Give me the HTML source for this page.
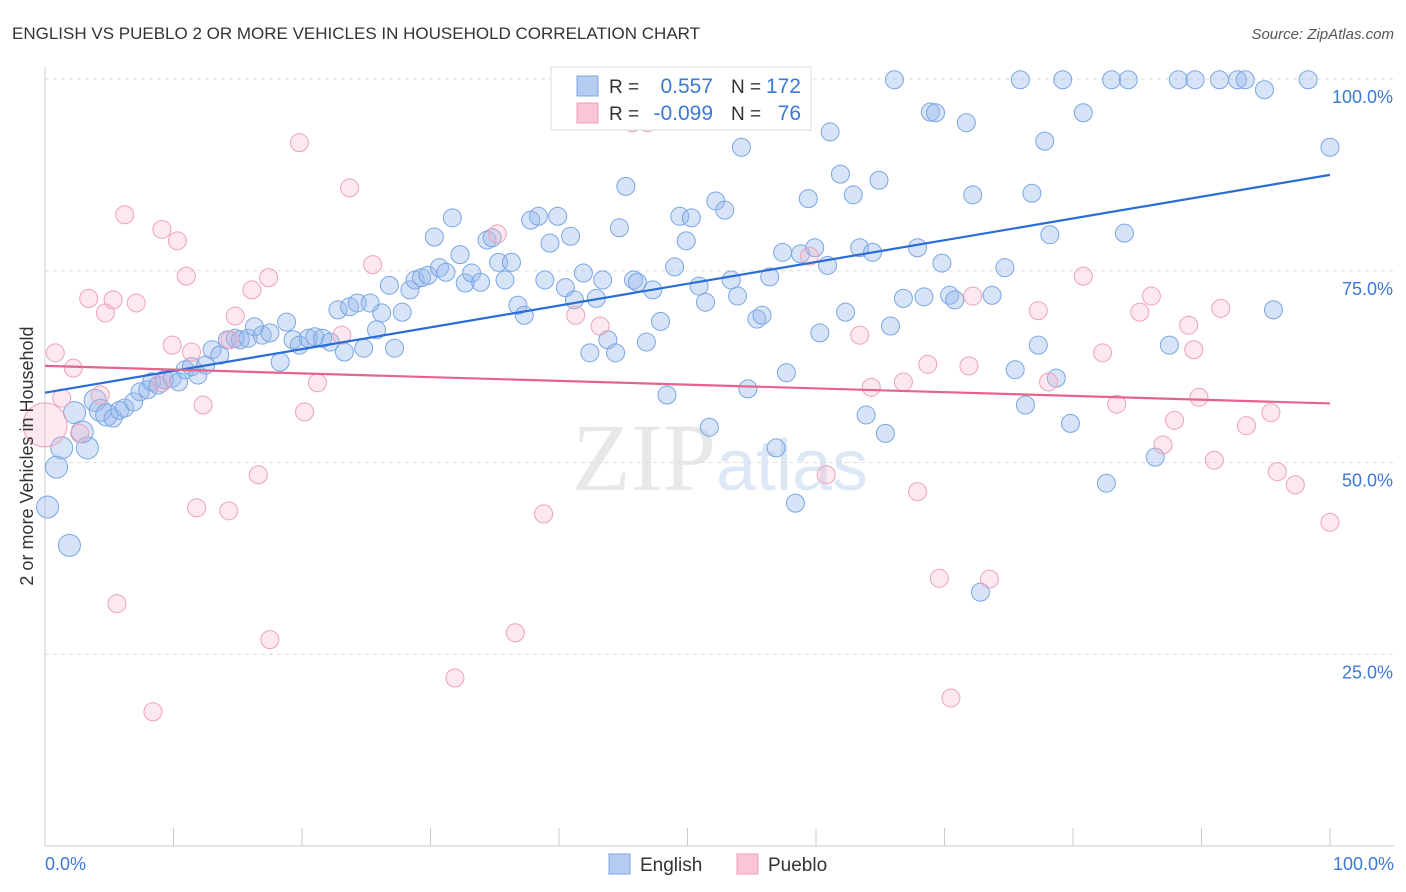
<!DOCTYPE html>
<html><head><meta charset="utf-8"><style>
body{margin:0;background:#fff;font-family:"Liberation Sans",sans-serif;}
svg{display:block}
</style></head><body>
<svg id="chart" width="1406" height="892" xmlns="http://www.w3.org/2000/svg">
<text x="12" y="39" font-size="17" fill="#333">ENGLISH VS PUEBLO 2 OR MORE VEHICLES IN HOUSEHOLD CORRELATION CHART</text>
<text x="1394" y="39" font-size="15" fill="#555" font-style="italic" text-anchor="end">Source: ZipAtlas.com</text>
<text x="720" y="490" font-size="96" fill="#e8e8e8" text-anchor="middle" font-family="Liberation Serif">ZIP<tspan fill="#dde8f6" font-family="Liberation Sans" font-size="72">atlas</tspan></text>
<g id="grid"></g><g id="pts"></g><g id="lines"></g>
<text x="33" y="456" font-size="18" fill="#333" text-anchor="middle" transform="rotate(-90 33 456)">2 or more Vehicles in Household</text>
<text x="45" y="870" font-size="18" fill="#3b78d8">0.0%</text>
<text x="1394" y="870" font-size="18" fill="#3b78d8" text-anchor="end">100.0%</text>
<g>
<rect x="551" y="67" width="260" height="63" fill="#fff" stroke="#ddd"/>
<rect x="577" y="76" width="21" height="20" fill="#b6cdf2" stroke="#7aa4e4"/>
<rect x="577" y="103" width="21" height="20" fill="#f9c6d5" stroke="#ee9fb7"/>
<text x="609" y="93" font-size="19" fill="#333">R = </text><text x="713" y="93" font-size="21" fill="#3b78d8" text-anchor="end">0.557</text>
<text x="731" y="93" font-size="19" fill="#333">N =</text><text x="801" y="93" font-size="21" fill="#3b78d8" text-anchor="end">172</text>
<text x="609" y="120" font-size="19" fill="#333">R = </text><text x="713" y="120" font-size="21" fill="#3b78d8" text-anchor="end">-0.099</text>
<text x="731" y="120" font-size="19" fill="#333">N =</text><text x="801" y="120" font-size="21" fill="#3b78d8" text-anchor="end">76</text>
</g>
<g>
<rect x="609" y="854" width="21" height="20" fill="#b6cdf2" stroke="#7aa4e4"/>
<text x="640" y="871" font-size="19" fill="#333">English</text>
<rect x="737" y="854" width="21" height="20" fill="#f9c6d5" stroke="#ee9fb7"/>
<text x="768" y="871" font-size="19" fill="#333">Pueblo</text>
</g>
</svg>
<script>
const engX=[0.2,0.9,1.3,1.9,2.3,3.3,2.9,3.9,4.3,4.8,5.3,5.8,6.2,6.9,7.4,8.0,8.3,8.8,9.3,9.9,10.4,10.9,11.4,11.9,12.5,13.0,13.6,14.2,14.8,15.2,15.8,16.3,16.9,17.5,18.3,18.8,19.3,19.8,20.5,21.0,21.6,22.2,22.8,23.3,23.7,24.3,24.8,25.3,25.8,26.2,26.8,27.2,27.8,28.4,28.8,29.3,29.8,30.3,30.7,31.2,31.7,32.3,32.7,33.2,33.9,34.4,34.8,35.3,35.8,36.3,36.8,37.3,37.8,38.4,38.9,39.3,39.9,40.5,40.9,41.2,41.9,42.4,42.9,43.4,43.8,44.4,44.7,45.2,45.8,46.1,46.8,47.3,47.9,48.4,49.0,49.4,49.9,50.3,50.9,51.4,51.7,52.2,52.9,53.4,53.9,54.2,54.7,55.4,55.8,56.4,56.9,57.4,57.7,58.4,58.8,59.4,59.9,60.3,60.9,61.1,61.9,62.3,62.9,63.4,63.9,64.4,64.9,65.4,65.8,66.1,66.8,67.9,68.4,68.9,69.3,69.8,70.4,70.8,71.7,72.2,72.8,73.7,74.7,75.9,75.5,76.3,76.8,77.3,77.8,78.2,78.7,79.2,79.8,80.8,82.6,83.0,84.0,84.3,86.4,87.5,88.2,89.5,91.4,92.8,93.4,94.9,95.6,98.3,100];
const engY=[44.2,49.4,51.9,39.2,56.5,51.9,54.0,58.1,56.8,56.2,55.8,56.8,57.1,57.9,59.2,59.5,60.5,60.1,60.8,61.0,60.5,62.1,62.5,61.4,62.7,64.7,64.0,66.0,66.2,66.0,66.2,67.7,66.6,66.9,63.1,68.3,66.0,65.3,66.2,66.4,66.2,65.7,69.9,64.4,70.3,70.8,64.9,70.8,67.3,69.5,73.1,64.9,69.6,72.5,73.8,74.1,74.4,79.4,75.4,74.8,81.9,77.1,73.4,74.7,73.5,79.0,79.3,76.1,73.8,76.1,70.5,69.2,81.6,82.1,73.8,78.6,82.1,72.8,79.5,71.2,74.7,64.3,71.4,73.8,66.0,64.3,80.6,86.0,73.8,73.5,65.7,72.5,68.4,58.8,75.5,82.1,78.9,81.9,73.0,70.9,54.6,84.1,82.9,73.8,71.7,91.1,59.6,68.7,69.2,74.2,51.9,77.4,61.7,44.7,77.2,84.4,78.0,66.9,75.7,93.1,87.6,69.6,84.9,78.0,56.2,77.4,86.8,53.8,67.8,99.9,71.4,78.0,71.6,95.7,95.6,76.0,71.8,71.2,94.3,84.9,33.1,71.8,75.4,99.9,62.1,57.5,85.1,65.3,91.9,79.7,61.0,99.9,55.1,95.6,47.3,99.9,79.9,99.9,50.7,65.3,99.9,99.9,99.9,99.9,99.9,98.6,69.9,99.9,91.1];
const pueX=[0,0.8,1.3,2.2,2.7,3.4,4.3,4.7,5.3,5.6,6.2,7.1,8.4,9.1,9.1,9.9,10.3,11.0,11.4,11.8,12.3,14.3,14.4,14.8,16.1,16.6,17.4,17.5,19.8,20.2,21.2,23.1,23.7,25.5,31.9,35.2,36.6,38.8,41.3,43.2,45.7,46.9,59.5,60.8,63.4,64.3,66.8,67.9,68.7,69.6,70.5,71.9,72.2,73.5,77.3,78.1,80.8,82.3,83.4,85.2,86.1,87.0,87.9,89.0,89.4,89.8,91.0,91.5,93.5,95.4,95.9,97.3,100];
const pueY=[54.9,64.3,58.4,62.3,53.8,71.4,58.8,69.5,71.2,31.6,82.3,70.8,17.5,80.4,60.4,65.3,78.9,74.3,64.4,44.1,57.5,43.7,66.0,69.1,72.5,48.4,74.1,26.9,91.7,56.6,60.4,66.6,85.8,75.8,21.9,79.8,27.8,43.3,69.2,67.8,94.3,94.3,76.9,48.4,66.6,59.8,60.5,46.2,62.8,34.9,19.3,62.6,71.7,34.8,69.8,60.5,74.3,64.3,57.6,69.6,71.7,52.3,55.5,67.9,64.7,58.5,50.3,70.1,54.8,56.5,48.8,47.1,42.2];
const yTicks=[25,50,75,100];
const xTicks=[0,10,20,30,40,50,60,70,80,90,100];
const engLine=[59.1,87.5];
const pueLine=[62.6,57.7];
const NS="http://www.w3.org/2000/svg";
const sx=v=>45+v*12.85, sy=v=>846-v*7.67;
function mk(p,tag,a){const e=document.createElementNS(NS,tag);for(const k in a)e.setAttribute(k,a[k]);p.appendChild(e);return e;}
const grid=document.getElementById('grid');
yTicks.forEach(t=>{
 const l=mk(grid,'line',{x1:45,x2:1394,y1:sy(t),y2:sy(t),stroke:'#ddd','stroke-dasharray':'4 4'});
 
 
 const tx=mk(grid,'text',{x:1393,y:sy(t)+24,'font-size':18,fill:'#3b78d8','text-anchor':'end'});
 tx.textContent=t.toFixed(1)+'%';
 
 
});
mk(grid,'line',{x1:45,x2:45,y1:67,y2:846,stroke:'#ccc'});
mk(grid,'line',{x1:45,x2:1394,y1:846,y2:846,stroke:'#ccc'});
xTicks.forEach(t=>{const l=mk(grid,'line',{x1:sx(t),x2:sx(t),y1:828,y2:846,stroke:'#ccc'});
 
 });
const pts=document.getElementById('pts');
engX.forEach((x,i)=>{const r=x<5?11:9;
 const c=mk(pts,'circle',{cx:sx(x),cy:sy(engY[i]),r:r,fill:'rgba(150,185,236,0.38)',stroke:'#7aa6e2','stroke-width':1});
 
 });
pueX.forEach((x,i)=>{const r=i===0?22:9;
 const c=mk(pts,'circle',{cx:sx(x),cy:sy(pueY[i]),r:r,fill:'rgba(246,180,200,0.3)',stroke:'#eea2ba','stroke-width':1});
 
 });
const lines=document.getElementById('lines');
const l1=mk(lines,'line',{x1:sx(0),y1:sy(engLine[0]),x2:sx(100),y2:sy(engLine[1]),stroke:'#2a6dd6','stroke-width':2.2});


const l2=mk(lines,'line',{x1:sx(0),y1:sy(pueLine[0]),x2:sx(100),y2:sy(pueLine[1]),stroke:'#e5638d','stroke-width':2.2});


</script>
</body></html>
